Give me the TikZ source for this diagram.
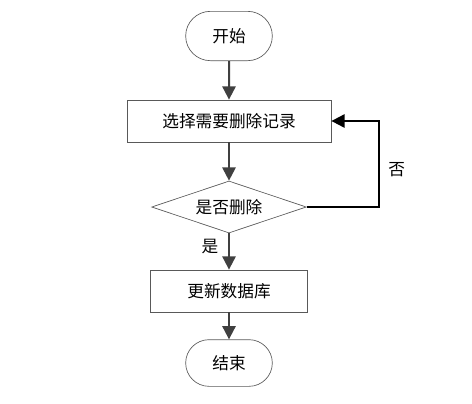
\documentclass[tikz,border=0pt]{standalone}
\usepackage{fontspec}
\setmainfont{Noto Sans CJK SC}
\usetikzlibrary{arrows.meta,%
                shapes.geometric,%
                shapes.misc}

\begin{document}
\begin{tikzpicture}[x=0.75pt,y=-0.75pt,font=\fontsize{12.5pt}{14pt}\selectfont]
  \tikzstyle{TermStyle}=[draw=black!65,line width=0.5pt,rounded rectangle,minimum width=65pt,minimum height=37pt,inner sep=0pt]
  \tikzstyle{BoxStyle}=[draw=black!65,line width=0.6pt,rectangle,minimum height=31.5pt,inner sep=0pt]
  \tikzstyle{AskStyle}=[draw=black!65,line width=0.5pt,diamond,aspect=3,minimum width=116pt,minimum height=39pt,inner sep=0pt]
  \tikzstyle{FlowStyle}=[draw=black!75,line width=1.5pt,-{Triangle[length=10pt,width=10pt]}]
  \tikzstyle{BackStyle}=[draw=black,line width=1.5pt,-{Triangle[length=10pt,width=10pt]}]
  \useasboundingbox (0,0) rectangle (472,404);
  \node[TermStyle] (start) at (229,36) {开始};
  \node[BoxStyle,minimum width=153pt] (select) at (229,121) {选择需要删除记录};
  \node[AskStyle] (ask) at (229,207) {是否删除};
  \node[BoxStyle,minimum width=118pt] (update) at (229,291) {更新数据库};
  \node[TermStyle,minimum height=35pt] (stop) at (229,363) {结束};
  \coordinate (back) at (379,207);
  \draw[FlowStyle] (start) -- (select);
  \draw[FlowStyle] (select) -- (ask);
  \draw[FlowStyle] (ask) -- node[left=4pt,pos=0.35]{是} (update);
  \draw[FlowStyle] (update) -- (stop);
  \draw[BackStyle] (ask.east) -- (back) |- node[right=3pt,pos=0.22]{否} (select.east);
\end{tikzpicture}
\end{document}
